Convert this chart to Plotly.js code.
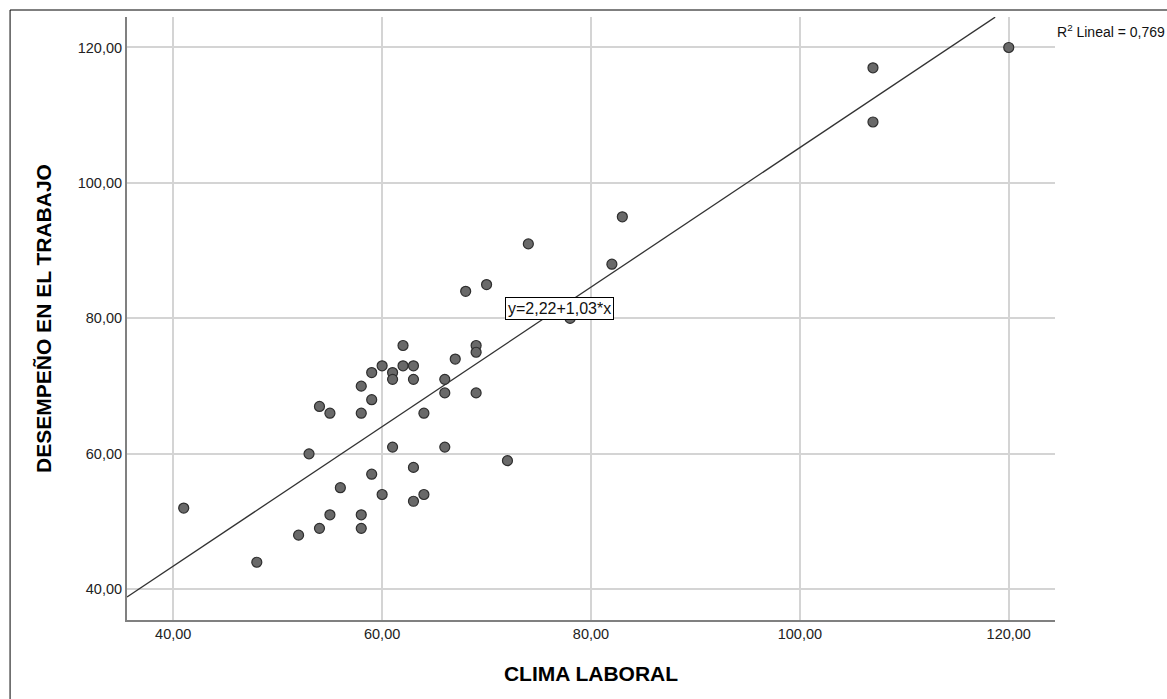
<!DOCTYPE html>
<html>
<head>
<meta charset="utf-8">
<script src="https://cdn.plot.ly/plotly-3.0.1.min.js"></script>
<style>html,body{margin:0;padding:0;background:#fff;}#chart{width:1167px;height:699px;}</style>
</head>
<body>
<div id="chart"></div>
<script>
// CLIMA LABORAL (x) vs DESEMPEÑO EN EL TRABAJO (y)
const climaLaboral = [62, 69, 69, 67, 60, 62, 63, 59, 61, 61, 63, 66, 58, 66, 69, 59, 54, 55, 58, 64,
  61, 66, 53, 72, 63, 59, 56, 60, 64, 63, 55, 58, 54, 58, 52, 41, 48,
  74, 70, 68, 82, 83, 78, 120, 107, 107];
const desempeno = [76, 76, 75, 74, 73, 73, 73, 72, 72, 71, 71, 71, 70, 69, 69, 68, 67, 66, 66, 66,
  61, 61, 60, 59, 58, 57, 55, 54, 54, 53, 51, 51, 49, 49, 48, 52, 44,
  91, 85, 84, 88, 95, 80, 120, 117, 109];

// Linear fit shown in the chart: y = 2,22 + 1,03*x ; R² = 0,769
const fitIntercept = 2.22;
const fitSlope = 1.03;
const fitLabel = 'y=2,22+1,03*x';
const r2Label = 'R<sup>2</sup> Lineal = 0,769';
const fitXRange = [35.57, 118.7];

const xTickVals = [40, 60, 80, 100, 120];
const xTickText = ['40,00', '60,00', '80,00', '100,00', '120,00'];
const yTickVals = [40, 60, 80, 100, 120];
const yTickText = ['40,00', '60,00', '80,00', '100,00', '120,00'];

const xTitle = 'CLIMA LABORAL';
const yTitle = 'DESEMPEÑO EN EL TRABAJO';

const fitY = fitXRange.map(x => fitIntercept + fitSlope * x);

const FONT = 'Liberation Sans, Arial, sans-serif';

const traces = [
  {
    x: fitXRange, y: fitY, type: 'scatter', mode: 'lines',
    line: {color: '#333333', width: 1.3}, hoverinfo: 'skip', showlegend: false
  },
  {
    x: climaLaboral, y: desempeno, type: 'scatter', mode: 'markers',
    marker: {size: 10, color: '#696969', line: {color: '#2e2e2e', width: 1.2}},
    showlegend: false
  }
];

const layout = {
  width: 1167, height: 699,
  margin: {l: 127, r: 112, t: 17, b: 79, pad: 0},
  paper_bgcolor: '#ffffff', plot_bgcolor: '#ffffff',
  font: {family: FONT, color: '#222222', size: 14},
  showlegend: false,
  xaxis: {
    range: [35.57, 124.43], tickvals: xTickVals, ticktext: xTickText,
    showgrid: true, gridcolor: '#d4d4d4', gridwidth: 2,
    zeroline: false, showline: true, linecolor: '#808080', linewidth: 2,
    ticks: '', tickfont: {size: 14.5, color: '#222'},
    title: {text: xTitle, font: {size: 21, family: FONT, color: '#000', weight: 'bold'}, standoff: 25},
    automargin: false
  },
  yaxis: {
    range: [35.47, 124.5], tickvals: yTickVals, ticktext: yTickText,
    showgrid: true, gridcolor: '#d4d4d4', gridwidth: 2,
    zeroline: false, showline: true, linecolor: '#808080', linewidth: 2,
    ticks: '', tickfont: {size: 14.5, color: '#222'},
    title: {text: yTitle, font: {size: 21, family: FONT, color: '#000', weight: 'bold'}, standoff: 20},
    automargin: false
  },
  annotations: [
    {
      x: 77.0, y: 81.5, xref: 'x', yref: 'y', text: fitLabel, showarrow: false,
      font: {size: 16, family: FONT, color: '#111'},
      bgcolor: '#ffffff', bordercolor: '#000000', borderwidth: 1, borderpad: 2
    },
    {
      x: 1.0, y: 0.977, xref: 'paper', yref: 'paper', xanchor: 'left', yanchor: 'middle',
      text: r2Label, showarrow: false, font: {size: 14, family: FONT, color: '#111'}
    }
  ],
  shapes: [
    {type: 'rect', xref: 'paper', yref: 'paper', x0: -0.126, x1: 1.3, y0: -0.3, y1: 1.0116,
     line: {color: '#000000', width: 1}, fillcolor: 'rgba(0,0,0,0)', layer: 'below'}
  ]
};

Plotly.newPlot('chart', traces, layout, {displayModeBar: false, staticPlot: true});
</script>
</body>
</html>
